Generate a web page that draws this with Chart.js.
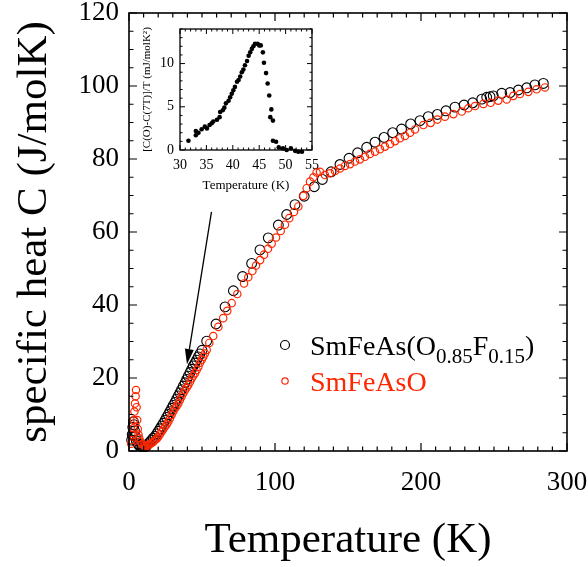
<!DOCTYPE html>
<html><head><meta charset="utf-8">
<script src="https://cdn.jsdelivr.net/npm/chart.js@4.4.0/dist/chart.umd.min.js"></script>
<style>
html,body{margin:0;padding:0;background:#fff;}
#wrap{position:relative;width:588px;height:567px;overflow:hidden;}
#main{position:absolute;left:0;top:0;}
#inset{position:absolute;left:140px;top:20px;}
</style></head><body>
<div id="wrap"><canvas id="main" width="588" height="567"></canvas><canvas id="inset" width="180" height="180"></canvas></div>
<script>
// ---- data ----
const blackT = [1.8,2.2,2.6,3.0,3.4,3.8,4.3,5.0,6.0,7.0,8.0,9.0,10,11,12,13.2,14.4,15.5,16.6,17.8,19,20.1,21.2,22.3,23.5,24.7,25.8,26.9,28,29.2,30.3,31.5,32.6,33.8,34.9,36,37.2,38.4,39.5,40.6,41.8,42.9,44,45.2,46.3,47.5,48.6,50,53.2,59.6,65.8,71.5,77.8,84,89.7,95.4,102.3,108,113.7,120,126.9,132.4,138.4,144.5,150.7,156.6,162.8,168.5,174.7,180.6,186.7,192.9,199.3,205,211.2,217.1,223.3,229.5,235.4,241.6,245,247.3,249.5,255.3,261,266.7,272.4,278,283.8];
const blackC = [3.0,4.5,6.5,8.0,7.2,5.5,4.0,2.8,2.0,1.5,1.3,1.2,1.2,1.2,1.4,2.0,2.5,3.0,3.5,4.0,4.7,5.4,6.1,6.8,7.6,8.4,9.2,10.0,10.8,11.7,12.5,13.3,14.2,15.1,15.9,16.8,17.8,18.7,19.6,20.5,21.5,22.4,23.3,24.1,24.9,25.8,26.6,27.6,30.1,34.8,39.5,43.9,47.8,51.4,55.1,58.4,61.9,64.8,67.5,69.8,72.4,74.4,76.5,78.5,80.2,81.7,83.2,84.6,85.9,87.2,88.2,89.6,90.5,91.6,92.2,93.2,94.2,94.8,95.4,96.4,96.9,97.1,97.3,98.0,98.2,98.9,99.5,100.3,100.7];

const redT = [1.5,2.0,2.5,3.0,3.4,3.7,4.1,4.5,4.8,5.2,5.6,6.0,6.5,7,8,9,10,11,12,13.2,14.4,15.5,16.6,17.8,19,20.1,21.2,22.3,23.5,24.7,25.8,26.9,28,29.2,30.3,31.5,32.6,33.8,34.9,36,37.2,38.4,39.5,40.6,41.8,42.9,44,45.2,46.3,47.5,48.6,49.8,50.9,52,53.2,55,57.7,61.2,64.5,67.3,70.3,74.2,78.8,81.7,84.5,87,89.8,92.5,95.2,97.7,100.7,103.9,106.8,109.8,113,116,119.4,121.7,124,126.3,128.5,130.8,134.2,137.7,141.1,144.5,147.9,151.4,154.8,158.2,161.6,165,168.5,171.9,175.3,178.8,182.2,185.6,189,192.5,195.9,201.6,206.6,211.2,216.4,222.2,227.9,232.4,237,242.7,247.7,252.9,258.7,263.2,267.8,273.5,279.2,284.9];
const redC = [2.0,3.0,4.4,6.2,8.5,10.8,13.0,15.0,16.7,12.0,8.5,6.0,4.5,3.5,2.5,1.9,1.5,1.4,1.4,1.6,1.9,2.2,2.5,3.0,3.4,3.9,4.6,5.3,6.0,6.7,7.3,8.0,8.9,9.9,10.8,11.7,12.3,13.0,14.0,14.9,15.8,16.7,17.4,18.1,19.0,19.9,20.6,21.3,22.2,23.1,24.2,25.0,25.8,26.7,27.7,29.6,31.5,34.0,36.4,38.4,40.5,43.0,45.9,47.6,49.3,50.8,52.3,53.8,55.4,56.8,58.5,60.3,62.0,63.8,65.5,67.0,69.9,72.0,73.8,75.0,76.3,76.5,75.6,76.1,76.7,77.4,78.1,78.6,79.3,79.9,80.6,81.4,82.0,82.7,83.4,84.1,84.9,85.7,86.3,87.2,88.1,89.3,89.9,90.8,91.6,92.3,93.0,93.9,94.5,95.1,95.4,96.0,96.3,97.3,97.8,98.4,99.1,99.6];

const insetT = [31.6,33.0,33.0,33.5,34.1,34.7,35.1,35.6,36.0,36.3,37.0,37.5,37.6,38.1,38.4,38.7,39.2,39.5,39.8,40.1,40.4,40.8,41.1,41.4,41.7,42.0,42.3,42.7,43.0,43.3,43.6,43.9,44.2,44.7,45.0,45.3,45.7,45.9,46.3,46.6,46.9,47.3,47.1,47.6,47.6,48.2,48.7,49.5,50.2,51.0,51.8,52.4,53.1];
const insetV = [1.07,2.2,1.7,2.0,2.4,2.7,2.5,2.9,3.1,3.3,3.5,3.8,4.4,4.6,4.9,5.4,5.7,6.1,6.5,6.9,7.3,7.9,8.1,8.5,9.0,9.3,9.8,10.3,10.9,11.3,11.7,12.0,12.3,12.3,12.1,12.1,11.3,10.1,8.9,7.7,6.3,4.7,3.8,3.4,1.07,0.96,0.3,0.19,0.0,0.2,-0.1,-0.2,-0.2];

const seriesNames = ['SmFeAs(O0.85F0.15)', 'SmFeAsO'];
const arrowFrom = [56.5, 65.5];
const arrowTo = [39.7, 23.8];

const RED = 'rgb(255,38,0)';
const SERIF = "'Liberation Serif','Times New Roman',serif";

function pts(xs, ys){ return xs.map((t,i)=>({x:t,y:ys[i]})); }

function frameTicksPlugin(o){
  return {
    id:'frameTicks',
    afterDraw(chart){
      const {ctx, chartArea:a, scales:{x,y}} = chart;
      ctx.save();
      ctx.strokeStyle='#000';
      ctx.lineWidth=o.lw;
      ctx.strokeRect(a.left,a.top,a.right-a.left,a.bottom-a.top);
      ctx.lineWidth=o.tlw;
      ctx.beginPath();
      const nx = Math.round((x.max-x.min)/o.xMinor);
      for(let i=0;i<=nx;i++){
        const v = x.min + i*o.xMinor;
        const r = v/o.xMajor;
        const major = Math.abs(r-Math.round(r))<1e-6;
        const len = major?o.maj:o.min;
        const px = x.getPixelForValue(v);
        ctx.moveTo(px,a.bottom); ctx.lineTo(px,a.bottom-len);
        ctx.moveTo(px,a.top); ctx.lineTo(px,a.top+len);
      }
      const ny = Math.round((y.max-y.min)/o.yMinor);
      for(let i=0;i<=ny;i++){
        const v = y.min + i*o.yMinor;
        const r = v/o.yMajor;
        const major = Math.abs(r-Math.round(r))<1e-6;
        const len = major?o.maj:o.min;
        const py = y.getPixelForValue(v);
        ctx.moveTo(a.left,py); ctx.lineTo(a.left+len,py);
        ctx.moveTo(a.right,py); ctx.lineTo(a.right-len,py);
      }
      ctx.stroke();
      ctx.restore();
    }
  };
}

const legendArrowPlugin = {
  id:'legendArrow',
  afterDraw(chart){
    const {ctx, scales:{x,y}} = chart;
    ctx.save();
    // arrow
    const x1=x.getPixelForValue(arrowFrom[0]), y1=y.getPixelForValue(arrowFrom[1]);
    const x2=x.getPixelForValue(arrowTo[0]), y2=y.getPixelForValue(arrowTo[1]);
    const ang=Math.atan2(y2-y1,x2-x1);
    const hl=15, hw=4.5;
    const bx=x2-hl*Math.cos(ang), by=y2-hl*Math.sin(ang);
    ctx.strokeStyle='#000'; ctx.lineWidth=1.3;
    ctx.beginPath(); ctx.moveTo(x1,y1); ctx.lineTo(bx,by); ctx.stroke();
    ctx.fillStyle='#000';
    ctx.beginPath();
    ctx.moveTo(x2,y2);
    ctx.lineTo(bx+hw*Math.sin(ang), by-hw*Math.cos(ang));
    ctx.lineTo(bx-hw*Math.sin(ang), by+hw*Math.cos(ang));
    ctx.closePath(); ctx.fill();

    // legend
    const lx=285, ly1=345, ly2=381, tx=310;
    ctx.lineWidth=1.2;
    ctx.strokeStyle='#000';
    ctx.beginPath(); ctx.arc(lx,ly1,4.5,0,Math.PI*2); ctx.stroke();
    ctx.strokeStyle=RED;
    ctx.beginPath(); ctx.arc(lx,ly2,3.2,0,Math.PI*2); ctx.stroke();
    const big='28px '+SERIF, small='21px '+SERIF;
    ctx.textBaseline='alphabetic'; ctx.textAlign='left';
    let cx=tx; const b1=355;
    ctx.fillStyle='#000';
    const parts=[['SmFeAs(O',big,0],['0.85',small,7.5],['F',big,0],['0.15',small,7.5],[')',big,0]];
    for(const [t,f,dy] of parts){ ctx.font=f; ctx.fillText(t,cx,b1+dy); cx+=ctx.measureText(t).width; }
    ctx.fillStyle=RED; ctx.font=big;
    ctx.fillText(seriesNames[1], tx, 391);
    ctx.restore();
  }
};

const mainChart = new Chart(document.getElementById('main'), {
  type:'scatter',
  data:{datasets:[
    {label:seriesNames[1], data:pts(redT,redC), pointStyle:'circle', pointRadius:3.7, pointHoverRadius:3.7,
     borderColor:RED, backgroundColor:'rgba(0,0,0,0)', pointBorderWidth:1.2, borderWidth:1.2, clip:false},
    {label:seriesNames[0], data:pts(blackT,blackC), pointStyle:'circle', pointRadius:4.9, pointHoverRadius:4.9,
     borderColor:'#000', backgroundColor:'rgba(0,0,0,0)', pointBorderWidth:1.1, borderWidth:1.1, clip:false}
  ]},
  options:{
    responsive:false, animation:false, devicePixelRatio:1,
    events:[],
    layout:{padding:{top:13,right:21,left:0,bottom:0}},
    plugins:{legend:{display:false}, tooltip:{enabled:false}},
    scales:{
      x:{type:'linear', min:0, max:300,
         grid:{display:false, drawTicks:false}, border:{display:false},
         ticks:{stepSize:100, padding:16, color:'#000', maxRotation:0, autoSkip:false,
                font:{family:SERIF, size:27}},
         title:{display:true, text:'Temperature (K)', color:'#000', font:{family:SERIF, size:43}, padding:{top:0,bottom:0}},
         afterFit(s){ s.height=116; s.paddingLeft=0; s.paddingRight=0; }},
      y:{type:'linear', min:0, max:120,
         grid:{display:false, drawTicks:false}, border:{display:false},
         ticks:{stepSize:20, padding:10, color:'#000', font:{family:SERIF, size:27}},
         title:{display:true, text:'specific heat C (J/molK)', color:'#000', font:{family:SERIF, size:43}, padding:{top:9,bottom:0}},
         afterFit(s){ s.width=129; s.paddingTop=0; s.paddingBottom=0; }}
    }
  },
  plugins:[frameTicksPlugin({lw:1.6, tlw:1.2, maj:8, min:4.5, xMinor:10, xMajor:100, yMinor:5, yMajor:20}), legendArrowPlugin]
});

const insetChart = new Chart(document.getElementById('inset'), {
  type:'scatter',
  data:{datasets:[
    {label:'inset', data:pts(insetT,insetV), pointStyle:'circle', pointRadius:2.3, pointHoverRadius:2.3,
     borderColor:'#000', backgroundColor:'#000', pointBorderWidth:0, borderWidth:0, clip:false}
  ]},
  options:{
    responsive:false, animation:false, devicePixelRatio:1,
    events:[],
    layout:{padding:{top:9,right:8,left:0,bottom:0}},
    plugins:{legend:{display:false}, tooltip:{enabled:false}},
    scales:{
      x:{type:'linear', min:30, max:55,
         grid:{display:false, drawTicks:false}, border:{display:false},
         ticks:{stepSize:5, padding:7, color:'#000', maxRotation:0, autoSkip:false, font:{family:SERIF, size:14}},
         title:{display:true, text:'Temperature (K)', color:'#000', font:{family:SERIF, size:13}, padding:{top:0,bottom:7}},
         afterFit(s){ s.height=50; s.paddingLeft=0; s.paddingRight=0; }},
      y:{type:'linear', min:0, max:14,
         grid:{display:false, drawTicks:false}, border:{display:false},
         ticks:{stepSize:5, padding:6, color:'#000', font:{family:SERIF, size:14},
                callback:(v)=> (v%5===0 ? String(v) : '')},
         title:{display:true, text:'[C(O)-C(7T)]/T (mJ/molK²)', color:'#000', font:{family:SERIF, size:11}, padding:{top:1,bottom:0}},
         afterFit(s){ s.width=40; s.paddingTop=0; s.paddingBottom=0; }}
    }
  },
  plugins:[frameTicksPlugin({lw:1.3, tlw:1, maj:5, min:2.5, xMinor:1, xMajor:5, yMinor:1, yMajor:5})]
});
</script>
</body></html>
